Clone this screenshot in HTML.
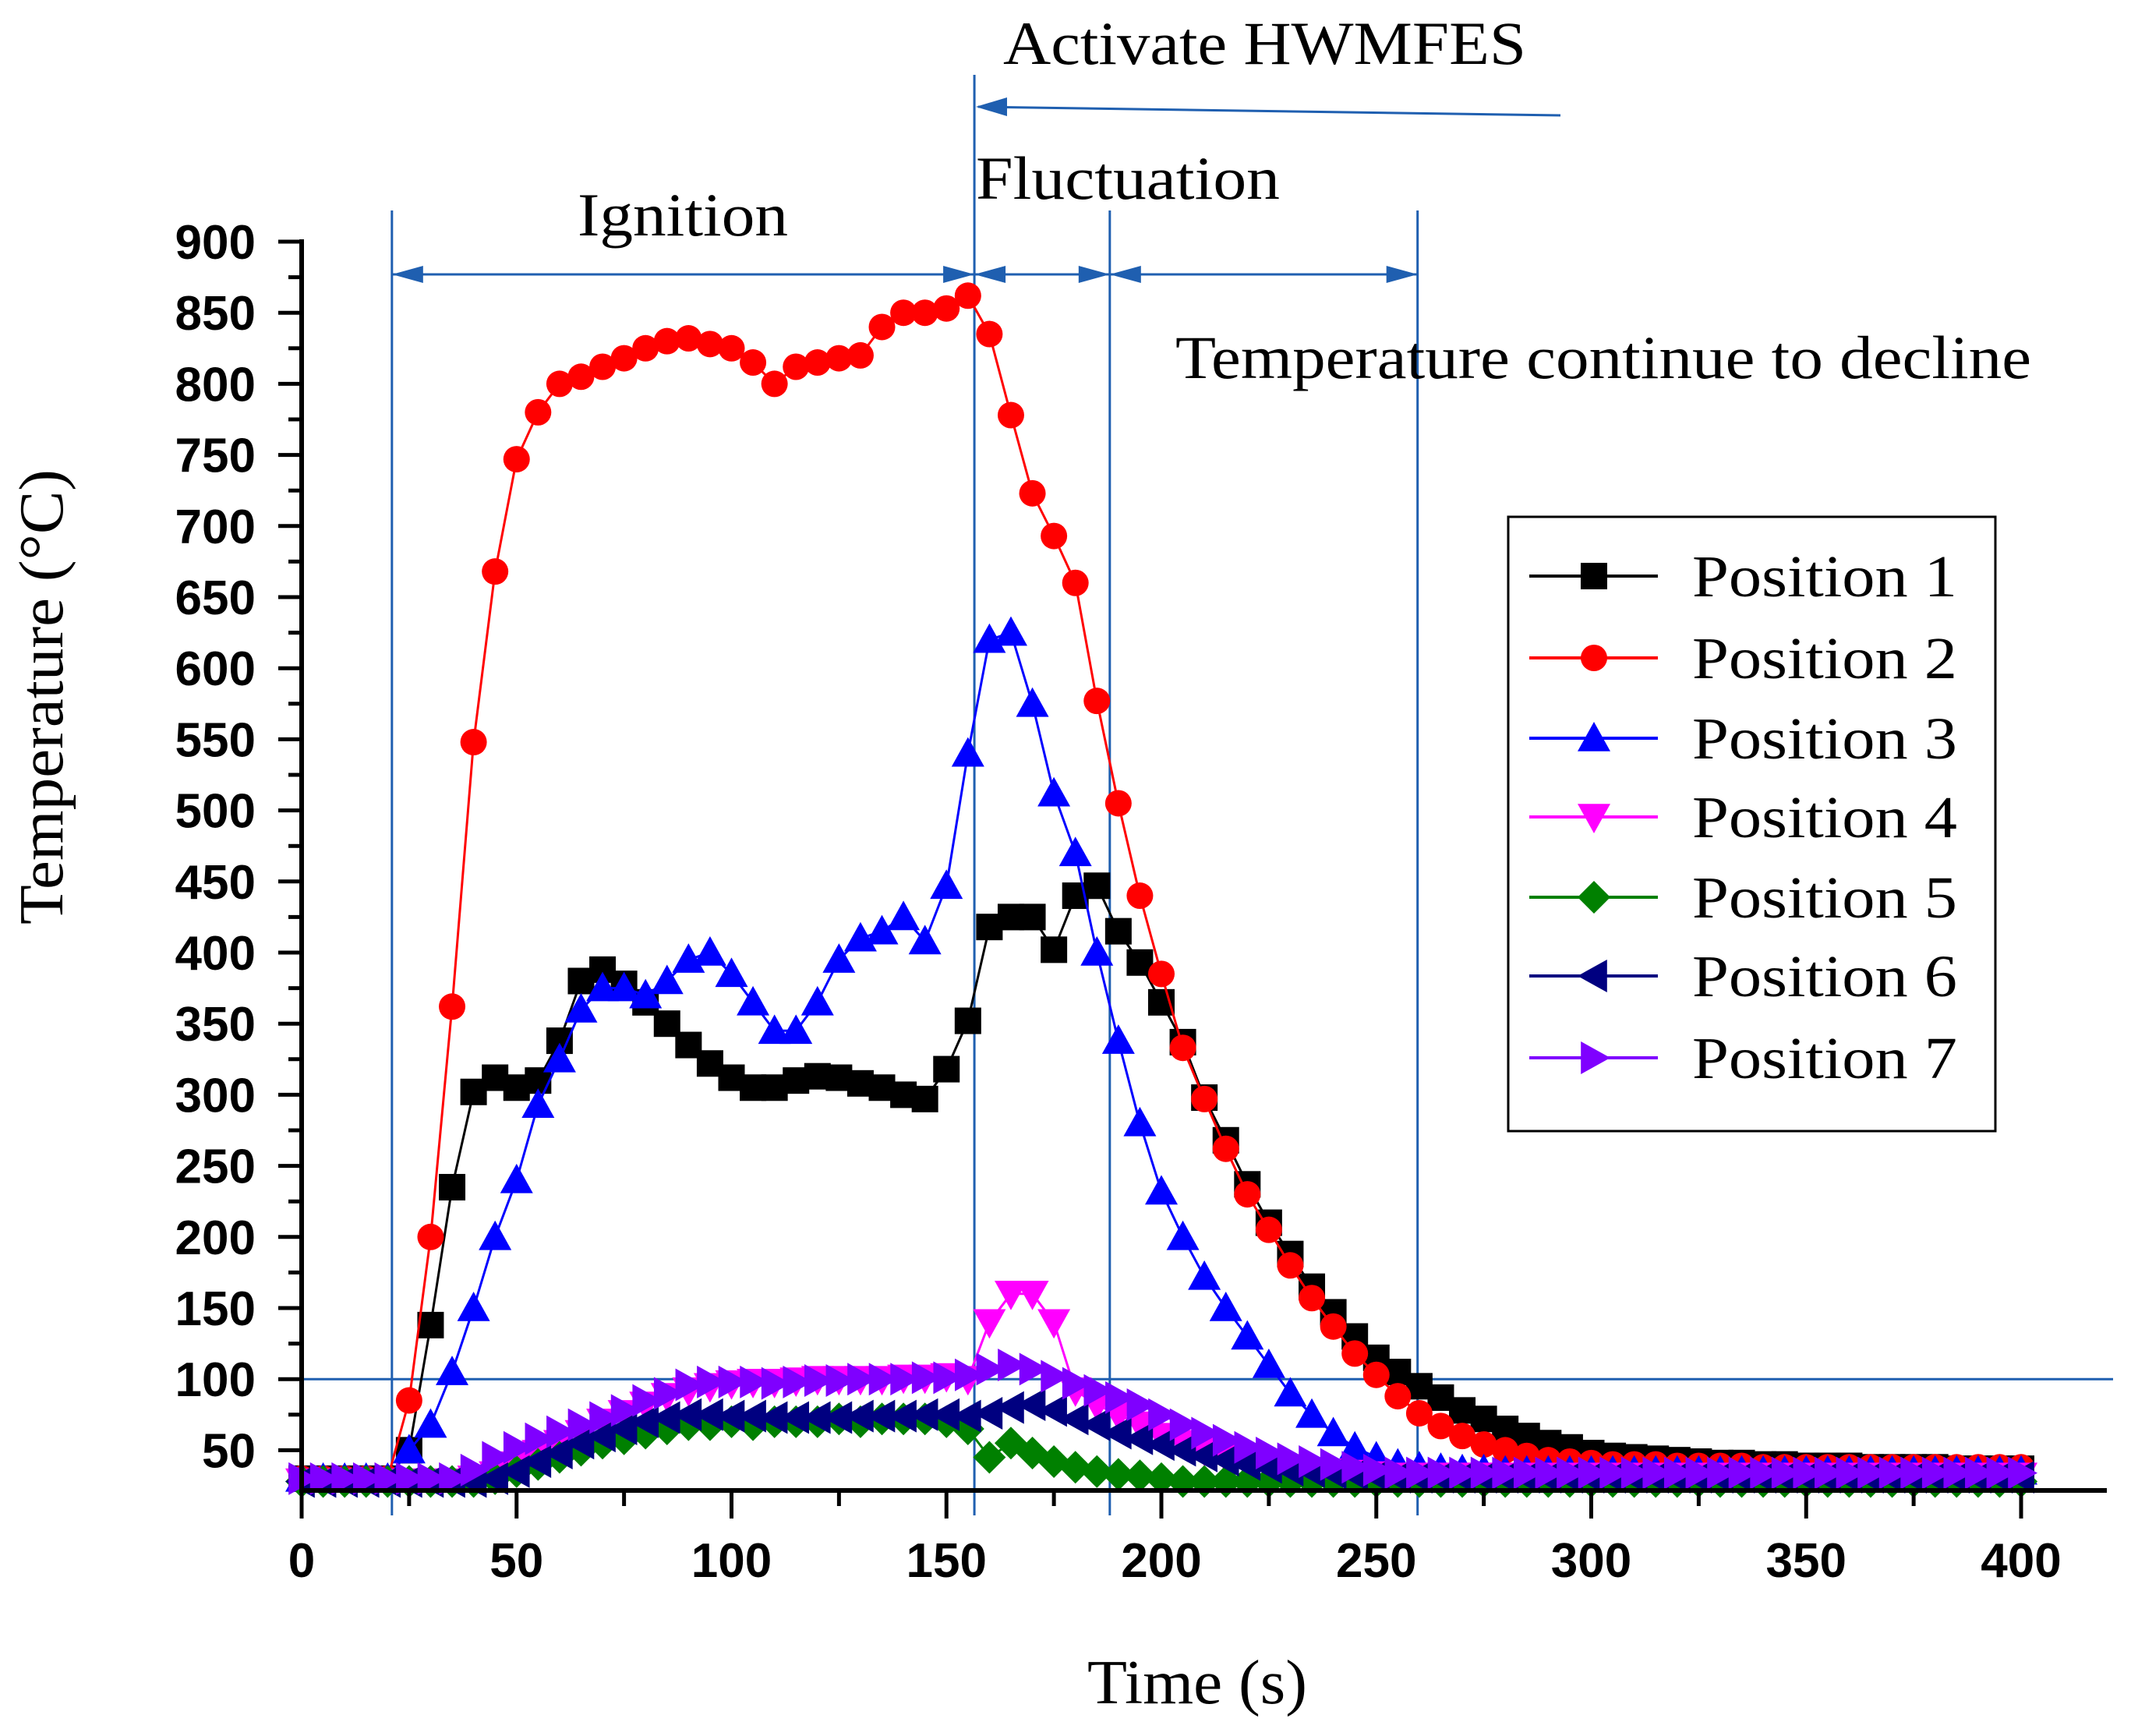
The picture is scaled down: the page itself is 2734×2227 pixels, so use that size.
<!DOCTYPE html>
<html><head><meta charset="utf-8">
<style>
html,body{margin:0;padding:0;background:#fff;}
svg{display:block;}
</style></head>
<body>
<svg id="chart" xmlns="http://www.w3.org/2000/svg" width="2734" height="2227" viewBox="0 0 2734 2227">
<rect width="2734" height="2227" fill="#fff"/>
<g id="annot"></g>
<g id="series"></g>
<g id="axes"></g>
<g id="legend"></g>
</svg>
<script>
const xTicks = [0,50,100,150,200,250,300,350,400];
const yTicks = [50,100,150,200,250,300,350,400,450,500,550,600,650,700,750,800,850,900];
const seriesNames = ["Position 1","Position 2","Position 3","Position 4","Position 5","Position 6","Position 7"];
const p1 = [30,30,30,30,30,50,138,235,302,312,305,310,338,380,388,378,365,350,335,322,312,305,305,310,313,312,308,305,300,297,318,352,418,425,425,402,440,447,415,393,365,337,298,268,237,210,188,165,147,130,115,105,95,87,78,72,65,60,55,52,48,46,45,44,43,42,41,41,40,40,39,39,39,38,38,38,38,37,37,37,37];
const p2 = [30,30,30,30,30,85,200,362,548,668,747,780,800,805,812,818,825,830,832,828,825,815,800,812,815,818,820,840,850,850,853,862,835,778,723,693,660,577,505,440,385,333,297,262,230,205,180,157,137,118,103,88,76,67,60,54,50,46,43,42,41,40,40,40,39,39,39,39,38,38,38,38,38,38,38,38,38,38,38,38,38];
const p3 = [30,30,30,30,30,50,68,105,150,200,240,293,325,360,375,375,370,380,395,400,385,365,345,345,365,395,410,415,425,408,447,540,620,625,575,512,470,400,338,280,232,200,172,150,130,110,90,75,62,52,45,40,38,37,36,36,35,35,35,35,35,35,35,35,35,35,35,35,35,35,35,35,35,35,35,35,35,35,35,35,35];
const p4 = [28,28,28,28,28,28,28,28,30,33,40,48,55,62,70,76,82,88,92,95,97,98,98,99,100,100,100,100,101,101,102,100,140,160,160,140,92,82,75,68,60,55,50,45,42,40,38,36,35,34,33,32,32,32,32,32,32,32,32,32,32,32,32,32,32,32,32,32,32,32,32,32,32,32,32,32,32,32,32,32,32];
const p5 = [28,28,28,28,28,28,28,28,28,30,35,40,45,50,55,58,62,65,68,68,70,68,70,70,70,72,70,72,72,72,70,65,45,55,48,42,38,35,33,32,30,28,28,28,28,28,28,28,28,28,28,28,28,28,28,28,28,28,28,28,28,28,28,28,28,28,28,28,28,28,28,28,28,28,28,28,28,28,28,28,28];
const p6 = [28,28,28,28,28,28,28,28,28,30,35,42,48,55,60,65,70,73,75,75,74,74,73,73,73,73,74,74,74,75,75,74,76,80,82,78,72,68,62,58,54,50,46,43,40,38,36,35,34,33,32,31,31,31,31,31,31,31,31,31,31,31,31,31,31,31,31,31,31,31,31,31,31,31,31,31,31,31,31,31,31];
const p7 = [30,30,30,30,30,30,30,30,36,45,52,58,63,68,73,78,85,90,96,98,98,98,97,98,99,99,100,100,100,101,101,103,107,110,107,102,97,92,87,82,75,68,62,57,52,48,44,42,40,38,36,34,34,34,34,34,34,34,34,34,34,34,34,34,34,34,34,34,34,34,34,34,34,34,34,34,34,34,34,34,34];
const allSeries = [p1,p2,p3,p4,p5,p6,p7];
const colors = ["#000000","#ff0000","#0000ff","#ff00ff","#008000","#000080","#7f00ff"];
const shapes = ["square","circle","tri-up","tri-down","diamond","tri-left","tri-right"];

const NS = "http://www.w3.org/2000/svg";
const X0 = 387, XS = 5.515, Y900 = 310, YS = 1.824;
function xs(t){ return X0 + t*XS; }
function ys(v){ return Y900 + (900 - v)*YS; }
const times = [];
for (let i=0;i<p1.length;i++) times.push(i*5);

function mk(tag, attrs, parent){
  const e = document.createElementNS(NS, tag);
  for (const k in attrs) e.setAttribute(k, attrs[k]);
  parent.appendChild(e);
  return e;
}
function marker(shape, x, y, color, parent){
  const s = 17;
  let e;
  if (shape==="square") e = mk("rect",{x:x-s,y:y-s,width:2*s,height:2*s,fill:color},parent);
  else if (shape==="circle") e = mk("circle",{cx:x,cy:y,r:s,fill:color},parent);
  else {
    const r = 21; let pts;
    if (shape==="tri-up") pts=[[x,y-r],[x+r,y+r*0.8],[x-r,y+r*0.8]];
    else if (shape==="tri-down") pts=[[x,y+r],[x+r,y-r*0.8],[x-r,y-r*0.8]];
    else if (shape==="tri-left") pts=[[x-r,y],[x+r*0.8,y-r],[x+r*0.8,y+r]];
    else if (shape==="tri-right") pts=[[x+r,y],[x-r*0.8,y-r],[x-r*0.8,y+r]];
    else pts=[[x,y-r],[x+r,y],[x,y+r],[x-r,y]];
    e = mk("polygon",{points:pts.map(p=>p.join(",")).join(" "),fill:color},parent);
  }
  return e;
}

// annotations
const an = document.getElementById("annot");
const ac = "#1f5fb0";
function vline(t, y1, y2, name){
  const l = mk("line",{x1:xs(t),x2:xs(t),y1:y1,y2:y2,stroke:ac,"stroke-width":3},an);
  
  
}
vline(21,270,1944,"ignition-start-line");
vline(156.5,96,1944,"activation-line");
vline(188,270,1944,"fluctuation-end-line");
vline(259.6,270,1944,"decline-marker-line");
const hl = mk("line",{x1:357,x2:2711,y1:ys(100),y2:ys(100),stroke:ac,"stroke-width":3},an);


function head(x,y,dir){
  return mk("polygon",{points:`${x},${y} ${x+dir*40},${y-11} ${x+dir*40},${y+11}`,fill:ac},an);
}
function darrow(t1,t2,name){
  const g = mk("g",{},an);
  
  
  mk("line",{x1:xs(t1),x2:xs(t2),y1:352,y2:352,stroke:ac,"stroke-width":3},g);
  g.appendChild(head(xs(t1),352,1));
  g.appendChild(head(xs(t2),352,-1));
}
darrow(21,156.5,"ignition-arrow");
darrow(156.5,188,"fluctuation-arrow");
darrow(188,259.6,"decline-arrow");
const ta = mk("g",{},an);


mk("line",{x1:2002,y1:148,x2:1255,y2:137,stroke:ac,"stroke-width":3},ta);
mk("polygon",{points:"1252,137 1292,125 1292,149",fill:ac},ta);

function txt(s, x, y, size, w, name, anchor, parent, extra){
  const e = mk("text",{x:x,y:y,"font-size":size,"font-family":"'Liberation Serif',serif",fill:"#000"},parent);
  if (anchor) e.setAttribute("text-anchor",anchor);
  if (w){ e.setAttribute("textLength",w); e.setAttribute("lengthAdjust","spacingAndGlyphs"); }
  if (extra) for (const k in extra) e.setAttribute(k, extra[k]);
  e.textContent = s;
  
  
  return e;
}
txt("Activate HWMFES",1287,82,78,671,"activate-label",null,an);
txt("Ignition",741,302,78,270,"ignition-label",null,an);
txt("Fluctuation",1252,255,78,390,"fluctuation-label",null,an);
txt("Temperature continue to decline",1508,485,78,1098,"decline-label",null,an);

// series
const sg = document.getElementById("series");
allSeries.forEach((vals, si) => {
  const g = mk("g",{},sg);
  
  
  const d = vals.map((v,i)=>(i?"L":"M")+xs(times[i]).toFixed(1)+","+ys(v).toFixed(1)).join(" ");
  mk("path",{d:d,fill:"none",stroke:colors[si],"stroke-width":3},g);
  vals.forEach((v,i)=>{
    const m = marker(shapes[si], xs(times[i]), ys(v), colors[si], g);
    
    
  });
});

// axes
const ax = document.getElementById("axes");
const yBottom = 1912;
const yAxis = mk("line",{x1:X0,x2:X0,y1:Y900-3,y2:yBottom+3,stroke:"#000","stroke-width":6},ax);


const xAxis = mk("line",{x1:X0-3,x2:2703,y1:yBottom,y2:yBottom,stroke:"#000","stroke-width":6},ax);


yTicks.forEach(v=>{
  mk("line",{x1:X0-30,x2:X0,y1:ys(v),y2:ys(v),stroke:"#000","stroke-width":5},ax);
  if (v<900) mk("line",{x1:X0-17,x2:X0,y1:ys(v+25),y2:ys(v+25),stroke:"#000","stroke-width":5},ax);
  const t = mk("text",{x:328,y:ys(v)+22,"font-size":62,"font-weight":"bold","font-family":"'Liberation Sans',sans-serif","text-anchor":"end",fill:"#000"},ax);
  t.textContent = v;
  
  
});
xTicks.forEach(v=>{
  mk("line",{x1:xs(v),x2:xs(v),y1:yBottom,y2:yBottom+36,stroke:"#000","stroke-width":5},ax);
  if (v<400) mk("line",{x1:xs(v+25),x2:xs(v+25),y1:yBottom,y2:yBottom+20,stroke:"#000","stroke-width":5},ax);
  const t = mk("text",{x:xs(v),y:2023,"font-size":62,"font-weight":"bold","font-family":"'Liberation Sans',sans-serif","text-anchor":"middle",fill:"#000"},ax);
  t.textContent = v;
  
  
});
txt("Time (s)",1395,2185,80,282,"x-axis-title",null,ax);
txt("Temperature (°C)",0,0,80,584,"y-axis-title",null,ax,{transform:"translate(80,1186) rotate(-90)"});

// legend
const lg = document.getElementById("legend");
const box = mk("rect",{x:1935,y:663,width:625,height:788,fill:"#fff",stroke:"#000","stroke-width":3},lg);


const ly = [739,844,947,1048,1151,1252,1357];
seriesNames.forEach((n,i)=>{
  const g = mk("g",{},lg);
  
  
  mk("line",{x1:1962,x2:2127,y1:ly[i],y2:ly[i],stroke:colors[i],"stroke-width":4},g);
  marker(shapes[i],2045,ly[i],colors[i],g);
  txt(n,2171,ly[i]+26,76,340,"legend-label",null,g);
});
</script>
</body></html>
